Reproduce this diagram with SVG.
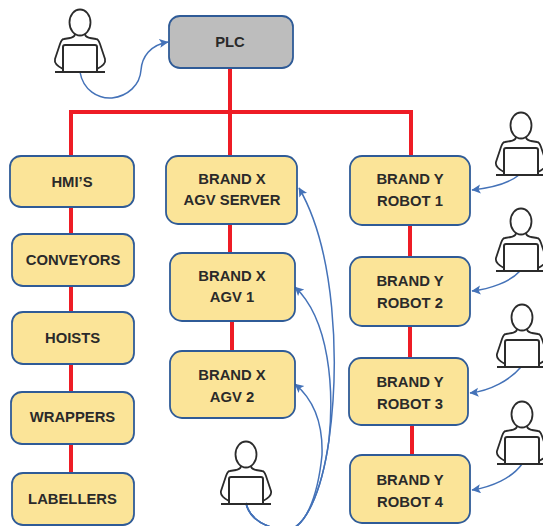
<svg xmlns="http://www.w3.org/2000/svg" width="543" height="526" viewBox="0 0 543 526">
<style>
.box{fill:#fbe498;stroke:#2f5b97;stroke-width:1.8}
.grey{fill:#bdbdbd}
text{font-family:"Liberation Sans",Arial,sans-serif;font-weight:700;font-size:14.8px;fill:#2a2a2a;text-anchor:middle}
.red{fill:none;stroke:#ee1c25;stroke-width:4}
.blue{fill:none;stroke:#4472b8;stroke-width:1.5}
.p{fill:none;stroke:#2b2b2b;stroke-width:1.8}
.lap{fill:none;stroke:#2b2b2b;stroke-width:2}
</style>
<defs>
<marker id="arrow" markerWidth="10" markerHeight="10" refX="8.500" refY="4.500" orient="auto" markerUnits="userSpaceOnUse"><path d="M0 0L9 4.500L0 9L2 4.500Z" fill="#4472b8"/></marker>
<symbol id="person" width="60" height="70" viewBox="0 0 60 70" overflow="visible">
<ellipse class="p" cx="25" cy="13.500" rx="10.500" ry="13"/>
<path class="p" d="M20 25C20 28 18 28 15 29L9 30C7 30 6 32 5 35L0 50C-1 54 2 57 8 60M30 25C30 28 32 28 35 29L41 30C43 30 44 32 45 35L50 50C51 54 48 57 42 60"/>
<path class="lap" d="M8 62V38Q8 36 10 36H40Q42 36 42 38V62"/>
<path class="lap" d="M0 63H50" stroke-width="1.500"/>
</symbol>
</defs>
<g id="connectors">
<path class="red" d="M230 68V156M71 156V112H411V156"/>
<path class="red" d="M71 207V234M71 286V312M71 364V392M71 444V473"/>
<path class="red" d="M230 224V253M232 321V351"/>
<path class="red" d="M410 225V257M410 326V358M412 423V455"/>
<path class="blue" marker-end="url(#arrow)" d="M80 72C83 90 98 99 112 98C128 96 140 85 141 70C142 57 150 45 168 42"/>
<path class="blue" marker-end="url(#arrow)" d="M519 175C508 184 490 188 472 190"/>
<path class="blue" marker-end="url(#arrow)" d="M520 271C510 282 490 289 472 291"/>
<path class="blue" marker-end="url(#arrow)" d="M521 367C510 380 490 391 470 393"/>
<path class="blue" marker-end="url(#arrow)" d="M522 464C512 478 492 487 472 490"/>
<path class="blue" marker-end="url(#arrow)" d="M246 503C249 518 262 526 282 530C305 534 322 490 329 440C340 360 335 250 299 188"/>
<path class="blue" marker-end="url(#arrow)" d="M246 503C249 518 262 526 282 530C305 534 322 490 329 440C334 390 330 320 295 287"/>
<path class="blue" marker-end="url(#arrow)" d="M246 503C249 518 262 526 282 530C305 534 318 495 322 455C323 425 314 400 295 384"/>
</g>
<g id="plc"><rect class="box grey" x="169" y="16" width="124" height="52" rx="11"/><text x="230" y="47">PLC</text></g>
<g id="hmis"><rect class="box" x="10" y="156" width="124" height="51" rx="11"/><text x="72" y="187">HMI’S</text></g>
<g id="conveyors"><rect class="box" x="12" y="234" width="122" height="52" rx="11"/><text x="73" y="265">CONVEYORS</text></g>
<g id="hoists"><rect class="box" x="12" y="312" width="122" height="52" rx="11"/><text x="72.500" y="343">HOISTS</text></g>
<g id="wrappers"><rect class="box" x="11" y="392" width="123" height="52" rx="11"/><text x="72.500" y="422">WRAPPERS</text></g>
<g id="labellers"><rect class="box" x="12" y="473" width="122" height="52" rx="11"/><text x="72.500" y="504">LABELLERS</text></g>
<g id="agv-server"><rect class="box" x="166" y="156" width="131" height="68" rx="12"/><text x="232" y="184">BRAND X</text><text x="232" y="205">AGV SERVER</text></g>
<g id="agv-1"><rect class="box" x="170" y="253" width="125" height="68" rx="12"/><text x="232" y="281">BRAND X</text><text x="232" y="302">AGV 1</text></g>
<g id="agv-2"><rect class="box" x="170" y="351" width="125" height="67" rx="12"/><text x="232" y="380">BRAND X</text><text x="232" y="402">AGV 2</text></g>
<g id="robot-1"><rect class="box" x="350" y="156" width="120" height="69" rx="12"/><text x="410" y="184">BRAND Y</text><text x="410" y="206">ROBOT 1</text></g>
<g id="robot-2"><rect class="box" x="350" y="257" width="120" height="69" rx="12"/><text x="410" y="286">BRAND Y</text><text x="410" y="308">ROBOT 2</text></g>
<g id="robot-3"><rect class="box" x="349" y="358" width="119" height="67" rx="12"/><text x="410" y="387">BRAND Y</text><text x="410" y="409">ROBOT 3</text></g>
<g id="robot-4"><rect class="box" x="350" y="455" width="120" height="68" rx="12"/><text x="410" y="485">BRAND Y</text><text x="410" y="507">ROBOT 4</text></g>
<g id="person-plc"><use href="#person" x="55" y="9"/></g>
<g id="person-robot-1"><use href="#person" x="496" y="112"/></g>
<g id="person-robot-2"><use href="#person" x="496" y="208"/></g>
<g id="person-robot-3"><use href="#person" x="497" y="304"/></g>
<g id="person-robot-4"><use href="#person" x="497" y="401"/></g>
<g id="person-agv"><use href="#person" x="221" y="441"/></g>
</svg>
